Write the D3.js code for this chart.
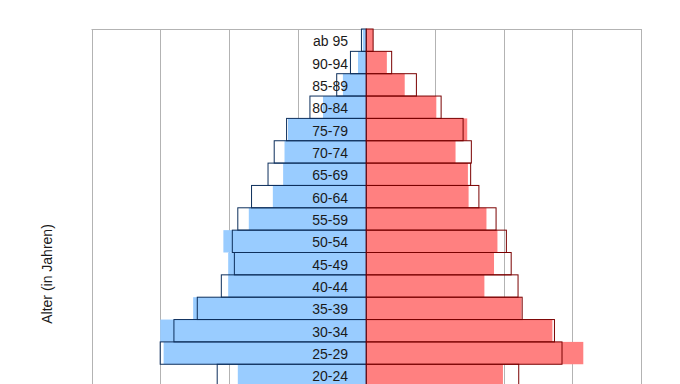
<!DOCTYPE html>
<html>
<head>
<meta charset="utf-8">
<script src="https://cdn.jsdelivr.net/npm/d3@7"></script>
<style>
  html, body { margin: 0; padding: 0; background: #fff; overflow: hidden; }
  svg { display: block; font-family: "Liberation Sans", Arial, sans-serif; }
</style>
</head>
<body>
<div id="chart"></div>
<script>
// Altersgruppen (oben -> unten, unterer Teil im Bild abgeschnitten)
const ages = ['ab 95', '90-94', '85-89', '80-84', '75-79', '70-74', '65-69', '60-64',
  '55-59', '50-54', '45-49', '40-44', '35-39', '30-34', '25-29', '20-24'];

// Männer / Frauen, gefüllt (aktuelles Jahr)
const maleFilled = [0.05, 0.12, 0.34, 0.63, 1.14, 1.19, 1.21, 1.36,
  1.71, 2.08, 2.01, 2.01, 2.52, 3.00, 2.95, 1.87];
const femaleFilled = [0.10, 0.30, 0.56, 1.02, 1.47, 1.30, 1.48, 1.49,
  1.75, 1.91, 1.86, 1.72, 2.26, 2.71, 3.16, 1.99];

// Vergleichsjahr (nur Umriss)
const maleOutline = [0.07, 0.23, 0.43, 0.82, 1.16, 1.34, 1.43, 1.67,
  1.87, 1.95, 1.92, 2.11, 2.46, 2.80, 3.00, 2.17];
const femaleOutline = [0.10, 0.37, 0.73, 1.09, 1.41, 1.53, 1.52, 1.64,
  1.89, 2.04, 2.11, 2.21, 2.27, 2.74, 2.85, 2.22];

const gridTicks = [-4, -3, -2, -1, 0, 1, 2, 3, 4];

const width = 680, height = 384;
const margin = { top: 29, left: 91.5, right: 39 };
const rowH = 22.35;

const svg = d3.select('#chart').append('svg')
  .attr('width', width)
  .attr('height', height);

const x = d3.scaleLinear().domain([-4, 4]).range([margin.left, width - margin.right]);
const y = d3.scaleBand().domain(ages).range([margin.top, margin.top + ages.length * rowH]).padding(0);

// Gitterlinien
svg.append('g').selectAll('line')
  .data(gridTicks)
  .enter().append('line')
  .attr('x1', d => Math.round(x(d)) + 0.5)
  .attr('x2', d => Math.round(x(d)) + 0.5)
  .attr('y1', margin.top)
  .attr('y2', height)
  .attr('stroke', '#b3b3b3')
  .attr('stroke-width', 1);

svg.append('line')
  .attr('x1', x(-4)).attr('x2', x(4))
  .attr('y1', margin.top + 0.5).attr('y2', margin.top + 0.5)
  .attr('stroke', '#b3b3b3');

const rows = ages.map((a, i) => ({
  age: a, mf: maleFilled[i], ff: femaleFilled[i], mo: maleOutline[i], fo: femaleOutline[i]
}));

// gefüllte Balken
svg.append('g').selectAll('rect')
  .data(rows).enter().append('rect')
  .attr('x', d => x(-d.mf))
  .attr('y', d => y(d.age))
  .attr('width', d => x(0) - x(-d.mf))
  .attr('height', y.bandwidth())
  .attr('fill', '#99ccff');

svg.append('g').selectAll('rect')
  .data(rows).enter().append('rect')
  .attr('x', x(0))
  .attr('y', d => y(d.age))
  .attr('width', d => x(d.ff) - x(0))
  .attr('height', y.bandwidth())
  .attr('fill', '#ff8080');

// Umrisse Vergleichsjahr
svg.append('g').selectAll('rect')
  .data(rows).enter().append('rect')
  .attr('x', d => x(-d.mo))
  .attr('y', d => y(d.age))
  .attr('width', d => x(0) - x(-d.mo))
  .attr('height', y.bandwidth())
  .attr('fill', 'none')
  .attr('stroke', '#0d2f5c')
  .attr('stroke-width', 1);

svg.append('g').selectAll('rect')
  .data(rows).enter().append('rect')
  .attr('x', x(0))
  .attr('y', d => y(d.age))
  .attr('width', d => x(d.fo) - x(0))
  .attr('height', y.bandwidth())
  .attr('fill', 'none')
  .attr('stroke', '#7a0000')
  .attr('stroke-width', 1);

// Beschriftung der Altersgruppen
svg.append('g').selectAll('text')
  .data(ages).enter().append('text')
  .attr('x', 348)
  .attr('y', d => y(d) + y.bandwidth() / 2 + 1)
  .attr('dominant-baseline', 'central')
  .attr('text-anchor', 'end')
  .style('font-size', '14px')
  .style('fill', '#1a1a1a')
  .text(d => d);

// Achsentitel
svg.append('text')
  .attr('transform', 'translate(46.5,274) rotate(-90)')
  .attr('text-anchor', 'middle')
  .attr('dominant-baseline', 'central')
  .style('font-size', '14px')
  .style('fill', '#1a1a1a')
  .text('Alter (in Jahren)');
</script>
</body>
</html>
